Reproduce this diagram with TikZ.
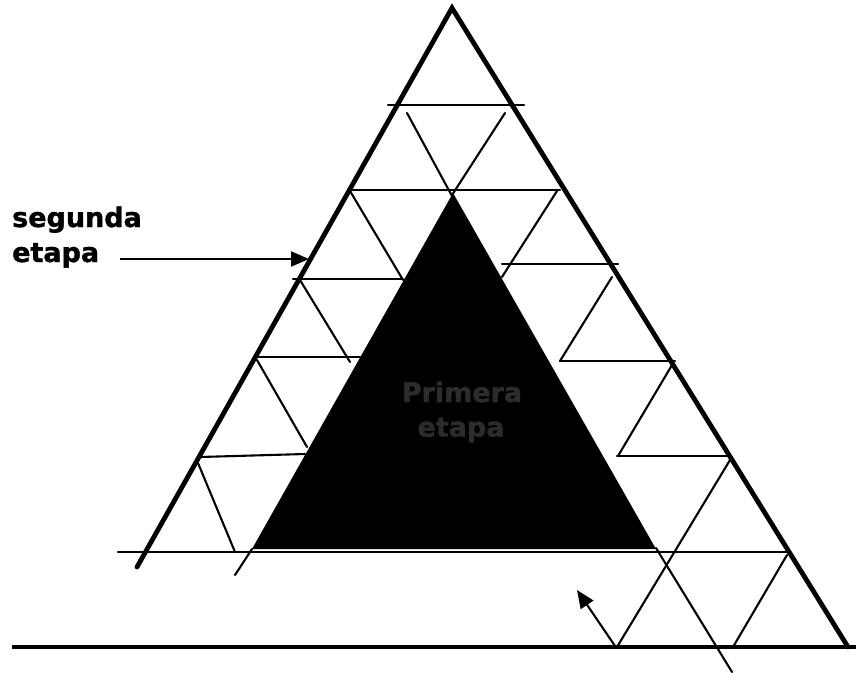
\documentclass[tikz,border=0pt]{standalone}
\usepackage{fontspec}
\newfontfamily\labfont[BoldFeatures={FakeBold=1.2}]{DejaVu Sans}
\usetikzlibrary{arrows.meta}
\definecolor{inktext}{HTML}{2C2C2C}
\tikzset{
  thinline/.style={line width=2.1pt, line cap=round},
  thickline/.style={line width=4.8pt, line cap=round},
  pointer/.style={line width=2.1pt, -{Triangle[length=18pt,width=15pt]}},
  lab/.style={font=\labfont\bfseries\fontsize{27pt}{30pt}\selectfont, inner sep=0pt, anchor=base west},
  innerlab/.style={font=\labfont\bfseries\fontsize{27pt}{30pt}\selectfont, inner sep=0pt, text=inktext}
}
\begin{document}
\begin{tikzpicture}[x=1pt,y=-1pt]
\useasboundingbox (0,0) rectangle (856,672);
\fill[white] (0,0) rectangle (856,672);
% key points
\coordinate (A) at (452,8);
\coordinate (L) at (137,567);
\coordinate (R) at (848,647);
\coordinate (B0) at (12,647);
\coordinate (B1) at (856,647);
\coordinate (K1) at (453,193);
\coordinate (K2) at (252,549);
\coordinate (K3) at (656,549);
% inner black triangle
\fill[black] (K1) -- (K2) -- (K3) -- cycle;
% horizontal thin lines
\coordinate (h1a) at (388,105); \coordinate (h1b) at (524,105);
\coordinate (h2a) at (350,190); \coordinate (h2b) at (560,190);
\coordinate (h3a) at (293,279); \coordinate (h3b) at (403,279);
\coordinate (h3c) at (502,264); \coordinate (h3d) at (618,264);
\coordinate (h4a) at (256,357); \coordinate (h4b) at (360,357);
\coordinate (h4c) at (560,361); \coordinate (h4d) at (675,361);
\coordinate (h5a) at (200,457); \coordinate (h5b) at (305,454);
\coordinate (h5c) at (617,456); \coordinate (h5d) at (730,456);
\coordinate (h6a) at (118,552); \coordinate (h6b) at (787,552);
\draw[thinline] (h1a) -- (h1b);
\draw[thinline] (h2a) -- (h2b);
\draw[thinline] (h3a) -- (h3b);
\draw[thinline] (h3c) -- (h3d);
\draw[thinline] (h4a) -- (h4b);
\draw[thinline] (h4c) -- (h4d);
\draw[thinline] (h5a) -- (h5b);
\draw[thinline] (h5c) -- (h5d);
\draw[thinline] (h6a) -- (h6b);
% diagonal thin lines
\coordinate (d1a) at (407,113); \coordinate (d1b) at (452,196);
\coordinate (d2a) at (505,113); \coordinate (d2b) at (452,195);
\coordinate (d3a) at (350,191); \coordinate (d3b) at (403,280);
\coordinate (d4a) at (557,191); \coordinate (d4b) at (502,277);
\coordinate (d5a) at (300,280); \coordinate (d5b) at (350,362);
\coordinate (d6a) at (612,277); \coordinate (d6b) at (560,361);
\coordinate (d7a) at (257,360); \coordinate (d7b) at (307,447);
\coordinate (d8a) at (672,365); \coordinate (d8b) at (618,456);
\coordinate (d9a) at (198,463); \coordinate (d9b) at (235,552);
\coordinate (d10b) at (235,575);
\coordinate (d11a) at (730,460); \coordinate (d11b) at (617,647);
\coordinate (d12a) at (656,548); \coordinate (d12b) at (732,672);
\coordinate (d13a) at (787,555); \coordinate (d13b) at (733,647);
\draw[thinline] (d1a) -- (d1b);
\draw[thinline] (d2a) -- (d2b);
\draw[thinline] (d3a) -- (d3b);
\draw[thinline] (d4a) -- (d4b);
\draw[thinline] (d5a) -- (d5b);
\draw[thinline] (d6a) -- (d6b);
\draw[thinline] (d7a) -- (d7b);
\draw[thinline] (d8a) -- (d8b);
\draw[thinline] (d9a) -- (d9b);
\draw[thinline] (K2) -- (d10b);
\draw[thinline] (d11a) -- (d11b);
\draw[thinline] (d12a) -- (d12b);
\draw[thinline] (d13a) -- (d13b);
% outer triangle and base
\draw[thickline] (L) -- (A) -- (R);
\draw[line width=4.8pt] (B0) -- (B1);
% labels
\node[lab] (seg) at (12,227) {segunda};
\node[lab] (eta) at (12,262) {etapa};
\node[innerlab] (prim) at (462,392) {Primera};
\node[innerlab] (prim2) at (461,430) {etapa};
% arrows
\coordinate (a1s) at (120,259);
\coordinate (a1e) at (309,259);
\draw[pointer] (a1s) -- (a1e);
\coordinate (a2s) at (615,646);
\coordinate (a2e) at (577,590);
\draw[pointer] (a2s) -- (a2e);
\end{tikzpicture}
\end{document}
